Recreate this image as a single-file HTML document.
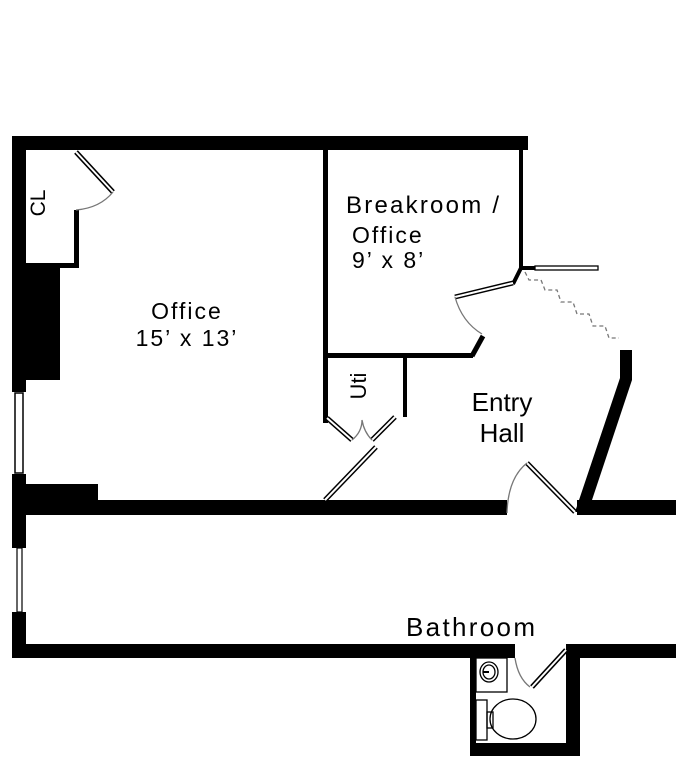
<!DOCTYPE html>
<html><head><meta charset="utf-8"><style>
html,body{margin:0;padding:0;background:#fff;}
svg{display:block;}
text{font-family:"Liberation Sans","DejaVu Sans",sans-serif;fill:#000;}
</style></head><body>
<svg width="676" height="768" viewBox="0 0 676 768" xmlns="http://www.w3.org/2000/svg">
<rect width="676" height="768" fill="#fff"/>
<g fill="#000">
<rect x="12" y="136" width="516" height="14"/>
<rect x="12" y="136" width="14" height="256"/>
<rect x="12" y="474" width="14" height="74"/>
<rect x="12" y="612" width="14" height="46"/>
<rect x="12" y="500" width="495" height="15"/>
<rect x="577" y="500" width="99" height="15"/>
<rect x="26" y="484" width="72" height="20"/>
<rect x="74" y="210" width="5" height="58"/>
<rect x="26" y="263" width="53" height="5"/>
<rect x="26" y="268" width="34" height="112"/>
<rect x="323" y="150" width="5" height="273"/>
<rect x="519" y="136" width="4" height="132"/>
<rect x="323" y="353" width="150" height="5"/>
<rect x="403" y="353" width="4" height="64"/>
<rect x="12" y="644" width="503" height="14"/>
<rect x="566" y="644" width="110" height="14"/>
<rect x="470" y="644" width="6" height="112"/>
<rect x="470" y="743" width="110" height="13"/>
<rect x="566" y="644" width="14" height="112"/>
<polygon points="620,350 632,350 632,380 588,512 575,512 620,378"/>
</g>
<g fill="none" stroke="#000">
<polyline points="472,356 483,336" stroke-width="5"/>
<polyline points="513,284 521,268 535,268" stroke-width="4"/>
<rect x="15" y="393" width="8" height="80" stroke-width="1.5"/>
<rect x="17" y="548" width="5" height="64" stroke-width="1.2"/>
<rect x="535" y="266" width="63" height="4" stroke-width="1.3"/>
<g stroke-width="5"><line x1="76" y1="152" x2="113" y2="192"/><line x1="455" y1="297" x2="513" y2="283"/><line x1="327" y1="418" x2="352" y2="440"/><line x1="395" y1="417" x2="372" y2="440"/><line x1="376" y1="447" x2="325" y2="500"/><line x1="527" y1="463" x2="575" y2="512"/><line x1="566" y1="650" x2="532" y2="687"/></g>
<g stroke="#fff" stroke-width="2"><line x1="76" y1="152" x2="113" y2="192"/><line x1="455" y1="297" x2="513" y2="283"/><line x1="327" y1="418" x2="352" y2="440"/><line x1="395" y1="417" x2="372" y2="440"/><line x1="376" y1="447" x2="325" y2="500"/><line x1="527" y1="463" x2="575" y2="512"/><line x1="566" y1="650" x2="532" y2="687"/></g>
<g stroke="#777" stroke-width="1.3">
<path d="M113,192 Q100,208 76,210"/>
<path d="M455,297 Q462,322 482,334"/>
<path d="M352,440 Q362,432 362,420 Q364,432 372,440"/>
<path d="M507,513 Q508,478 527,463"/>
<path d="M515,658 Q518,678 530,687"/>
<path d="M525,272 l4,8 h12 l4,10 h12 l4,12 h12 l4,12 h12 l4,12 h12 l4,12 h10" stroke-dasharray="4,3"/>
</g>
<g stroke-width="1.3">
<rect x="476" y="658" width="31" height="34"/>
<ellipse cx="489" cy="672" rx="9" ry="10"/>
<ellipse cx="489" cy="672" rx="6" ry="7"/>
<rect x="476" y="700" width="11" height="40"/>
<rect x="487" y="712" width="6" height="16"/>
<ellipse cx="513" cy="719" rx="23" ry="20"/>
</g>
</g>
<line x1="483" y1="672" x2="489" y2="672" stroke="#000" stroke-width="2"/>
<text x="187" y="319" font-size="23" text-anchor="middle" letter-spacing="2">Office</text>
<text x="187" y="346" font-size="23" text-anchor="middle" letter-spacing="2">15’ x 13’</text>
<text x="346" y="213" font-size="24" letter-spacing="1" textLength="154">Breakroom /</text>
<text x="352" y="243" font-size="23" letter-spacing="2">Office</text>
<text x="352" y="268" font-size="23" letter-spacing="2">9’ x 8’</text>
<text x="502" y="411" font-size="26" text-anchor="middle">Entry</text>
<text x="502" y="442" font-size="26" text-anchor="middle">Hall</text>
<text x="406" y="636" font-size="26" textLength="129">Bathroom</text>
<text transform="translate(45,203) rotate(-90)" font-size="21" text-anchor="middle">CL</text>
<text transform="translate(366,386) rotate(-90)" font-size="22" text-anchor="middle">Uti</text>
</svg>
</body></html>
